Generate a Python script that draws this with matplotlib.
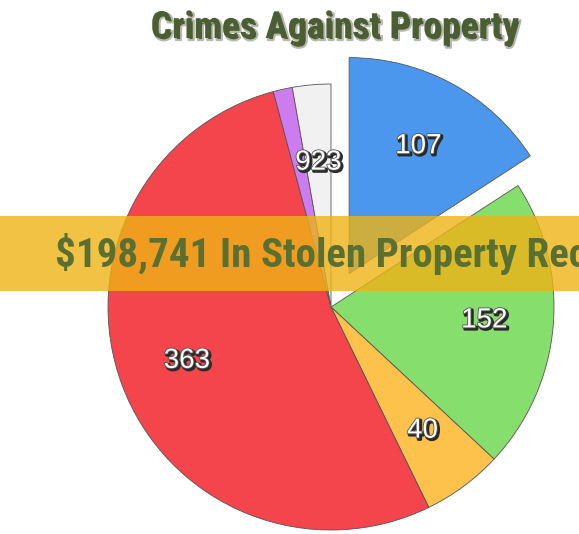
import matplotlib
matplotlib.use("Agg")
import numpy as np
import matplotlib.pyplot as plt
import matplotlib.patheffects as pe

# slice shares (in degrees of the circle) and their printed labels
slice_sizes = [57, 76, 21, 191, 5, 10]
slice_labels = ["107", "152", "40", "363", "", "923"]
slice_colors = ["#4B97EE", "#86DE6C", "#FCC24C", "#F4444C", "#CC7CEE", "#F1F1F1"]
explode = [38, 0, 0, 0, 0, 0]

title = "Crimes Against Property"
banner = "$198,741 In Stolen Property Recovered"

narrow = ["Roboto Condensed", "DejaVu Sans Condensed", "Liberation Sans Narrow",
          "Open Sans Condensed", "DejaVu Sans"]

W, H = 579, 534
fig = plt.figure(figsize=(W / 100, H / 100), dpi=100)
ax = fig.add_axes([0, 0, 1, 1])

cx, cy, R = 331, H - 307, 223
wedges, _ = ax.pie(slice_sizes, colors=slice_colors, explode=explode,
                   startangle=90, counterclock=False, center=(cx, cy), radius=R,
                   frame=True,
                   wedgeprops=dict(edgecolor="#555555", linewidth=0.6))
# the pulled-out slice looks a touch smaller in the original
wedges[0].set_radius(216)

label_fx = [pe.Stroke(offset=(1.2, -1.2), linewidth=2.2, foreground="#2a2a2a"),
            pe.Stroke(linewidth=1.2, foreground="#555555"), pe.Normal()]
for w, lab in zip(wedges, slice_labels):
    if not lab:
        continue
    ang = np.deg2rad((w.theta1 + w.theta2) / 2)
    x0, y0 = w.center
    d = 0.65 if lab in ("923", "107") else 0.69
    ax.text(x0 + d * R * np.cos(ang), y0 + d * R * np.sin(ang), lab,
            ha="center", va="center", fontsize=20, color="white",
            family=["Liberation Sans", "DejaVu Sans"], path_effects=label_fx)

ax.set_xlim(0, W)
ax.set_ylim(0, H)
ax.set_aspect("auto")
ax.axis("off")

# translucent banner across the middle
ax.axhspan(H - 291, H - 216, xmin=0, xmax=1, color="#EEB315", alpha=0.8, lw=0)
ax.text(55, H - 267, banner, ha="left", va="baseline", fontsize=29.5,
        fontweight="heavy", fontstretch="condensed", color="#5A7032",
        family=narrow)

fig.text(335 / W, 1 - 38 / H, title, ha="center", va="baseline", fontsize=27,
         fontweight="heavy", fontstretch="condensed", color="#4B5E33",
         family=narrow,
         path_effects=[pe.Stroke(offset=(1.5, -1.5), linewidth=1.5, foreground="#b8b8b0"),
                       pe.Normal()])

fig.savefig("out.png", dpi=100)
